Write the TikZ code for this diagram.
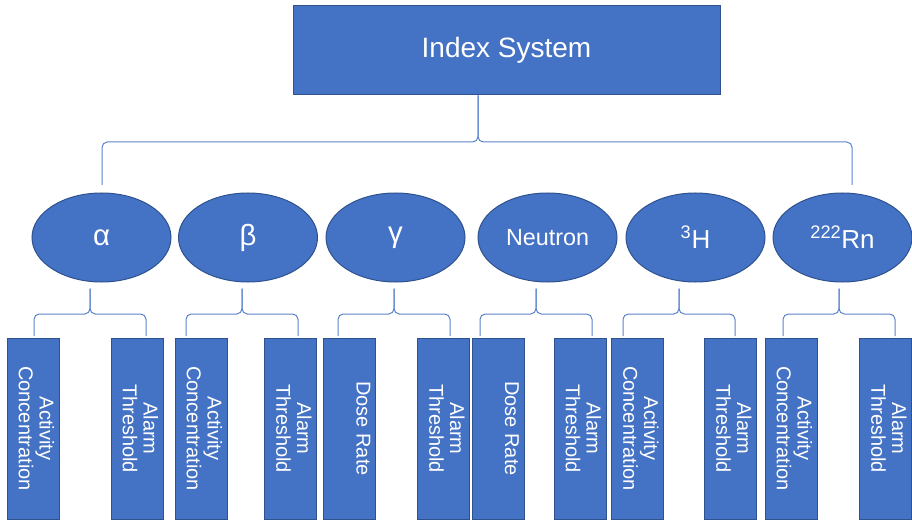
\documentclass[tikz,border=0pt]{standalone}
\usepackage{fontspec}
\setmainfont{Liberation Sans}
\usetikzlibrary{shapes.geometric}
\definecolor{boxblue}{HTML}{4472C4}
\definecolor{edgeblue}{HTML}{2F528F}
\definecolor{linkblue}{HTML}{5B83CC}
% text of the upright boxes, set from the top (right) side
\newcommand{\vtext}[1]{\parbox[c][31.5pt][t]{130pt}{\centering #1}}
\begin{document}
\begin{tikzpicture}[x=0.75pt, y=-0.75pt,
		blockbox/.style={draw=edgeblue, fill=boxblue, line width=0.75pt, text=white, inner sep=0pt},
		headbox/.style={blockbox, minimum width=320.25pt, minimum height=66.75pt, font=\fontsize{21}{24}\selectfont},
		kindnode/.style={blockbox, ellipse, minimum width=104.25pt, minimum height=66.75pt, font=\fontsize{19.5}{22}\selectfont},
		itembox/.style={blockbox, rotate=-90, minimum width=135.75pt, minimum height=39pt, font=\fontsize{15}{15.5}\selectfont},
		link/.style={draw=linkblue, line width=0.75pt, rounded corners=4pt}]
		\useasboundingbox (0,0) rectangle (912,520);
		
		\node[headbox] (top) at (506.5,50.5) {Index System};
		
		\node[kindnode] (a) at (101.5,237.5) {\fontsize{22}{24}\selectfont α};
		\node[kindnode] (b) at (248,237.5) {\fontsize{22}{24}\selectfont β};
		\node[kindnode] (c) at (395.5,237.5) {\fontsize{22}{24}\selectfont γ};
		\node[kindnode] (d) at (547.5,237.5) {\fontsize{17.5}{20}\selectfont Neutron};
		\node[kindnode] (e) at (695.5,237.5) {\textsuperscript{3}H};
		\node[kindnode] (f) at (842.5,237.5) {\textsuperscript{222}Rn};
		
		\node[itembox] (a1) at (33,428.5) {\vtext{Activity\\Concentration}};
		\node[itembox] (a2) at (137,428.5) {\vtext{Alarm\\Threshold}};
		\node[itembox] (b1) at (201,428.5) {\vtext{Activity\\Concentration}};
		\node[itembox] (b2) at (290.5,428.5) {\vtext{Alarm\\Threshold}};
		\node[itembox] (c1) at (349.5,428.5) {\vtext{Dose Rate}};
		\node[itembox] (c2) at (443.5,428.5) {\vtext{Alarm\\Threshold}};
		\node[itembox] (d1) at (498,428.5) {\vtext{Dose Rate}};
		\node[itembox] (d2) at (580,428.5) {\vtext{Alarm\\Threshold}};
		\node[itembox] (e1) at (637.5,428.5) {\vtext{Activity\\Concentration}};
		\node[itembox] (e2) at (730.5,428.5) {\vtext{Alarm\\Threshold}};
		\node[itembox] (f1) at (791,428.5) {\vtext{Activity\\Concentration}};
		\node[itembox] (f2) at (885.5,428.5) {\vtext{Alarm\\Threshold}};
		
		% braces
		\coordinate (t0) at (478,142);
		\coordinate (l0) at (102,185);
		\coordinate (r0) at (852,185);
		\draw[link] (l0) |- (t0) -- (t0 |- top.south);
		\draw[link] (r0) |- (t0) -- (t0 |- top.south);
		
		\coordinate (ta) at (90,314);  \coordinate (la) at (34,336);  \coordinate (ra) at (146,336);
		\coordinate (tb) at (242,314); \coordinate (lb) at (186,336); \coordinate (rb) at (298,336);
		\coordinate (tc) at (394,314); \coordinate (lc) at (338,336); \coordinate (rc) at (450,336);
		\coordinate (td) at (536,314); \coordinate (ld) at (480,336); \coordinate (rd) at (592,336);
		\coordinate (te) at (679,314); \coordinate (le) at (623,336); \coordinate (re) at (735,336);
		\coordinate (tf) at (839,314); \coordinate (lf) at (783,336); \coordinate (rf) at (895,336);
		
		\draw[link, shorten >=4.5pt] (la) |- (ta) -- (ta |- a.south);
		\draw[link, shorten >=4.5pt] (ra) |- (ta) -- (ta |- a.south);
		\draw[link, shorten >=4.5pt] (lb) |- (tb) -- (tb |- b.south);
		\draw[link, shorten >=4.5pt] (rb) |- (tb) -- (tb |- b.south);
		\draw[link, shorten >=4.5pt] (lc) |- (tc) -- (tc |- c.south);
		\draw[link, shorten >=4.5pt] (rc) |- (tc) -- (tc |- c.south);
		\draw[link, shorten >=4.5pt] (ld) |- (td) -- (td |- d.south);
		\draw[link, shorten >=4.5pt] (rd) |- (td) -- (td |- d.south);
		\draw[link, shorten >=4.5pt] (le) |- (te) -- (te |- e.south);
		\draw[link, shorten >=4.5pt] (re) |- (te) -- (te |- e.south);
		\draw[link, shorten >=4.5pt] (lf) |- (tf) -- (tf |- f.south);
		\draw[link, shorten >=4.5pt] (rf) |- (tf) -- (tf |- f.south);
		
	\end{tikzpicture}
\end{document}
